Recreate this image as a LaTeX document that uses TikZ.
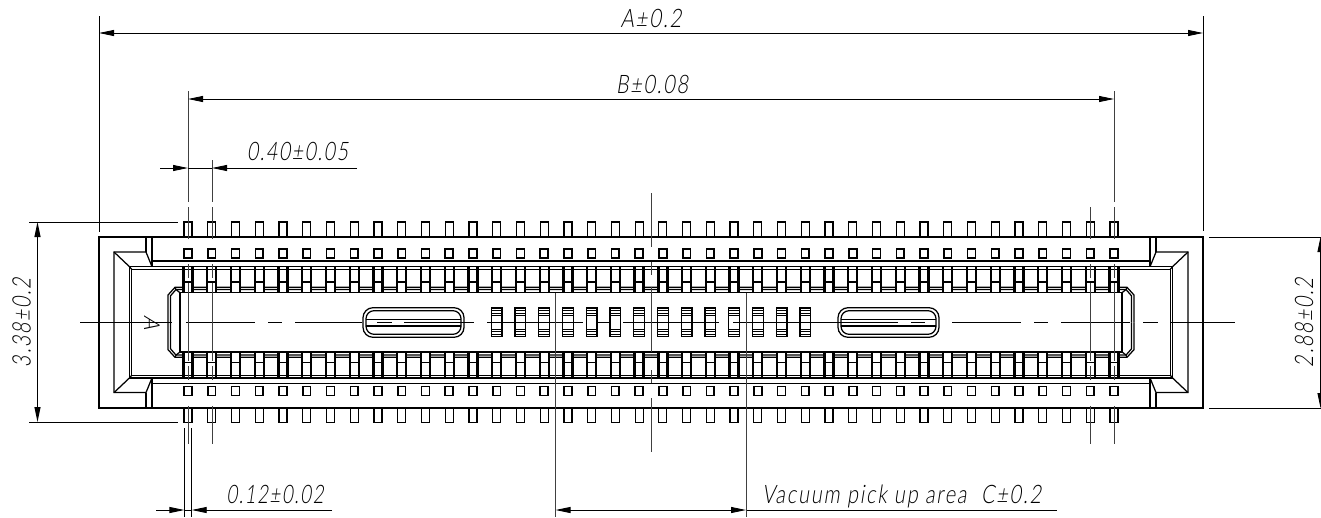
\documentclass[tikz,border=0pt]{standalone}
\usepackage{fontspec}
\usepackage{graphicx}
\usetikzlibrary{arrows.meta}
\newfontfamily\cad{Lato Light}[FakeSlant=0.2,LetterSpace=9]
\newcommand\cadtext[2]{\resizebox{#1pt}{\height}{\cad\fontsize{25.5}{26}\selectfont #2}}
\tikzset{
  body/.style={line width=1.25pt,black},
  heavy/.style={line width=2.3pt,black},
  hair/.style={line width=.8pt,black},
  centre/.style={line width=1pt,black!75},
  dim/.style={line width=.9pt,black},
  dimarrow/.style={line width=.9pt,black,{Triangle[length=15pt,width=6pt]}-{Triangle[length=15pt,width=6pt]}},
  onearrow/.style={line width=.9pt,black,-{Triangle[length=15pt,width=6pt]}},
  txt/.style={inner sep=0pt,outer sep=0pt,anchor=center}
}
\begin{document}
\begin{tikzpicture}[x=1pt,y=-1pt]
\useasboundingbox (0,0) rectangle (1321,517);
\def\cy{322.3}
\def\cx{651}
% outer body
\draw[body] (99,237) rectangle (1203,408);
% quarter details
\foreach \sx in {1,-1}{\foreach \sy in {1,-1}{
 \begin{scope}[shift={(\cx,\cy)},xscale=\sx,yscale=\sy,shift={(-\cx,-\cy)}]
  \draw[body] (146,237)--(146,252) (152,237)--(152,266.7);
  \draw[body] (114,\cy)--(114,252)--(146,252)--(152,266.7);
  \draw[body] (114,252)--(129.5,266.7)--(131.7,269.3);
  \draw[body] (129.5,\cy)--(129.5,266.7)--(\cx,266.7);
  \draw[body] (131.7,\cy)--(131.7,269.3)--(\cx,269.3);
  \draw[body] (152,261)--(\cx,261);
  \draw[body] (168,\cy)--(168,295)--(175,287.3)--(\cx,287.3);
  \draw[body] (170.6,\cy)--(170.6,295.7)--(176,289.5)--(\cx,289.5);
  \draw[body] (180,\cy)--(180,292.7)--(\cx,292.7);
  \draw[body] (176,289.5)--(180,292.7) (175,287.3)--(176,289.5);
 \end{scope}
}}
% pins, pads, contacts
\foreach \sy in {1,-1}{
 \begin{scope}[shift={(\cx,\cy)},yscale=\sy,shift={(-\cx,-\cy)}]
 \foreach \i in {0,...,39}{
  \pgfmathsetmacro\px{188+23.743*\i}
  \draw[body] (\px-4,237)--(\px-4,222)--(\px+4,222)--(\px+4,237);
  \draw[body,line width=1.6pt] (\px-3.9,249)rectangle(\px+3.9,258);
  \fill[white] (\px-4.5,270) rectangle (\px+4.5,292.7);
  \draw[heavy] (\px-4.5,266.7)--(\px-4.5,292.7) (\px+4.5,266.7)--(\px+4.5,292.7);
  \draw[body] (\px-4.5,282)--(\px+4.5,282) (\px-4.5,292.7)--(\px+4.5,292.7);
 }
 \end{scope}
}
% central slots
\foreach \i in {13,...,26}{
  \pgfmathsetmacro\px{188+23.743*\i}
  \draw[body] (\px-5.3,308)rectangle(\px+5.3,336.7);
  \foreach \yy in {310.5,313.5,315.5,329.5,331.5,334}{
    \draw[hair] (\px-5.3,\yy)--(\px+5.3,\yy);}
}
% ovals
\foreach \sx in {1,-1}{
 \begin{scope}[shift={(\cx,\cy)},xscale=\sx,shift={(-\cx,-\cy)}]
  \draw[body,rounded corners=10pt] (363,307.7) rectangle (464,337.3);
  \draw[body,rounded corners=8pt] (366,310.7) rectangle (461,334.3);
  \draw[body] (366,319.3)--(461,319.3) (366,326)--(461,326);
 \end{scope}
}
% horizontal centre line
\foreach \a/\b in {80/172,186/255,268/282,295/362,377/392,404/474,487/583,596/610,623/719,733/898,911/925,952/1021,1034/1048,1061/1130,1143/1158,1171/1235}{
  \draw[dim] (\a,\cy)--(\b,\cy);
}
% vertical centre line
\foreach \a/\b in {193/247,262/275,287/352,370/383,398/452}{
  \draw[centre] (\cx,\a)--(\cx,\b);
}
% pin centre lines
\foreach \px/\t in {188/91,1114/91}{
  \draw[centre] (\px,\t)--(\px,202);
}
\draw[centre] (212,160)--(212,202);
\foreach \px in {188,212,1090,1114}{
  \foreach \a/\b in {207/239,264/278,283/361,366/380,406/444}{
    \draw[centre] (\px,\a)--(\px,\b);
  }
}
% dimension coordinates
\coordinate (aL) at (99,33);   \coordinate (aR) at (1203,33);
\coordinate (aLt) at (99,16);  \coordinate (aLb) at (99,232);
\coordinate (aRt) at (1203,16);\coordinate (aRb) at (1203,231);
\coordinate (bL) at (188,99);  \coordinate (bR) at (1114,99);
\coordinate (pL0) at (160,168);\coordinate (pL) at (188,168);
\coordinate (pR) at (212,168); \coordinate (pR0) at (357,168);
\coordinate (hT) at (37.5,222);\coordinate (hB) at (37.5,422);
\coordinate (hTa) at (29,222); \coordinate (hTb) at (178,222);
\coordinate (hBa) at (29,422); \coordinate (hBb) at (178,422);
\coordinate (wT) at (1320.5,237);\coordinate (wB) at (1320.5,408);
\coordinate (wTa) at (1209,237);\coordinate (wTb) at (1321,237);
\coordinate (wBa) at (1209,408);\coordinate (wBb) at (1321,408);
\coordinate (tL0) at (156,510);\coordinate (tL) at (184.4,510);
\coordinate (tR) at (191.7,510);\coordinate (tR0) at (332,510);
\coordinate (tLt) at (184.4,428);\coordinate (tLb) at (184.4,517);
\coordinate (tRt) at (191.7,428);\coordinate (tRb) at (191.7,517);
\coordinate (vL) at (555.5,510);\coordinate (vR) at (746,510);
\coordinate (vEnd) at (1057,510);
\coordinate (vLt) at (555.5,293);\coordinate (vLb) at (555.5,517);
\coordinate (vRt) at (746,293);\coordinate (vRb) at (746,517);
% dimension lines
\draw[dimarrow] (aL)--(aR);
\draw[dim] (aLt)--(aLb) (aRt)--(aRb);
\draw[dimarrow] (bL)--(bR);
\draw[onearrow] (pL0)--(pL);
\draw[onearrow] (pR0)--(pR);
\draw[dim] (pL)--(pR);
\draw[dimarrow] (hT)--(hB);
\draw[dim] (hTa)--(hTb) (hBa)--(hBb);
\draw[dimarrow] (wT)--(wB);
\draw[dim] (wTa)--(wTb) (wBa)--(wBb);
\draw[onearrow] (tL0)--(tL);
\draw[onearrow] (tR0)--(tR);
\draw[dim] (tL)--(tR);
\draw[dim] (tLt)--(tLb) (tRt)--(tRb);
\draw[dimarrow] (vL)--(vR);
\draw[dim] (vR)--(vEnd);
\draw[centre] (vLt)--(vLb) (vRt)--(vRb);
% labels
\node[txt] (lA) at (651,18) {\cadtext{61}{A±0.2}};
\node[txt] (lB) at (652,84) {\cadtext{72}{B±0.08}};
\node[txt] (l40) at (297.5,151) {\cadtext{101}{0.40±0.05}};
\node[txt] (l12) at (275,494) {\cadtext{97}{0.12±0.02}};
\node[txt,anchor=base west] (lV) at (762,503) {\cadtext{279}{Vacuum pick up area\ \ C±0.2}};
\node[txt,rotate=90] (l338) at (21.5,322.5) {\cadtext{89}{3.38±0.2}};
\node[txt,rotate=90] (l288) at (1304,322.5) {\cadtext{89}{2.88±0.2}};
\node[txt,rotate=-90] (lAmark) at (152,322.5) {\cad\fontsize{22}{22}\selectfont A};
\end{tikzpicture}
\end{document}
